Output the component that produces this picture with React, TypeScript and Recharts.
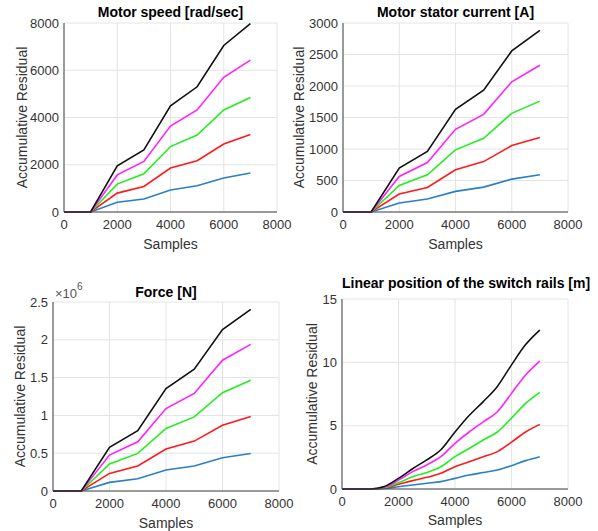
import React from 'react';
import { LineChart, Line, XAxis, YAxis, CartesianGrid } from 'recharts';

// sample index (x axis) for the three step plots
const samples = [0, 1000, 2000, 3000, 4000, 5000, 6000, 7000];

// Motor speed [rad/sec]
const speedBlue = [0, 0, 410, 550, 930, 1110, 1440, 1650];
const speedRed = [0, 0, 800, 1080, 1860, 2170, 2880, 3280];
const speedGreen = [0, 0, 1180, 1620, 2770, 3260, 4320, 4850];
const speedMagenta = [0, 0, 1570, 2140, 3640, 4320, 5700, 6430];
const speedBlack = [0, 0, 1950, 2630, 4490, 5300, 7050, 7970];

// Motor stator current [A]
const currentBlue = [0, 0, 142, 205, 327, 395, 522, 590];
const currentRed = [0, 0, 285, 390, 670, 800, 1054, 1181];
const currentGreen = [0, 0, 422, 590, 986, 1170, 1566, 1760];
const currentMagenta = [0, 0, 564, 785, 1313, 1550, 2066, 2330];
const currentBlack = [0, 0, 696, 960, 1630, 1935, 2557, 2884];

// Force [N]
const forceBlue = [0, 0, 114000, 163000, 277000, 330000, 440000, 497000];
const forceRed = [0, 0, 233000, 330000, 555000, 660000, 870000, 985000];
const forceGreen = [0, 0, 357000, 497000, 827000, 980000, 1300000, 1466000];
const forceMagenta = [0, 0, 475000, 651000, 1090000, 1290000, 1730000, 1940000];
const forceBlack = [0, 0, 577000, 797000, 1356000, 1611000, 2135000, 2403000];

// Linear position of the switch rails [m] (smooth curves, denser samples)
const railSamples = [0, 500, 1000, 1500, 2000, 2500, 3000, 3500, 4000, 4500, 5000, 5500, 6000, 6500, 7000];
const railBlue = [0, 0, 0, 0.04, 0.18, 0.32, 0.45, 0.58, 0.84, 1.1, 1.3, 1.5, 1.84, 2.24, 2.55];
const railRed = [0, 0, 0, 0.08, 0.37, 0.66, 0.92, 1.24, 1.76, 2.15, 2.55, 2.95, 3.7, 4.5, 5.1];
const railGreen = [0, 0, 0, 0.11, 0.5, 0.97, 1.3, 1.76, 2.55, 3.2, 3.87, 4.5, 5.6, 6.76, 7.63];
const railMagenta = [0, 0, 0, 0.15, 0.7, 1.37, 1.9, 2.55, 3.6, 4.5, 5.3, 6.1, 7.55, 9.0, 10.1];
const railBlack = [0, 0, 0, 0.2, 0.84, 1.6, 2.3, 3.1, 4.5, 5.8, 6.9, 8.1, 9.8, 11.4, 12.55];

const xTicks = [0, 2000, 4000, 6000, 8000];
const speedTicks = [0, 2000, 4000, 6000, 8000];
const currentTicks = [0, 500, 1000, 1500, 2000, 2500, 3000];
const forceTicks = [0, 500000, 1000000, 1500000, 2000000, 2500000];
const railTicks = [0, 5, 10, 15];

const FONT = '"Liberation Sans", Arial, Helvetica, sans-serif';
const TEXT = '#333';
const BOX = '#444';

const series = [
  { key: 'blue', color: '#2a7fc4' },
  { key: 'red', color: '#ff1a1a' },
  { key: 'green', color: '#22ee22' },
  { key: 'magenta', color: '#ff22ff' },
  { key: 'black', color: '#111111' },
];

function rows(xs: number[], blue: number[], red: number[], green: number[], magenta: number[], black: number[]) {
  return xs.map((x, i) => ({ x, blue: blue[i], red: red[i], green: green[i], magenta: magenta[i], black: black[i] }));
}

type PanelProps = {
  left: number;
  top: number;
  width: number;
  height: number;
  yWidth: number;
  mTop: number;
  mRight: number;
  xHeight: number;
  data: any[];
  yMax: number;
  yTicks: number[];
  yFmt?: (v: number) => string;
  title: string;
  titleTop: number;
  labelX: number;
  samplesOffset: number;
  curve: 'linear' | 'monotone';
};

function Panel(p: PanelProps) {
  const plotW = p.width - p.yWidth - p.mRight;
  return (
    <>
      <div
        style={{
          position: 'absolute',
          left: p.left + p.yWidth,
          top: p.titleTop,
          width: plotW,
          height: 16,
          lineHeight: '16px',
          textAlign: 'center',
          fontFamily: FONT,
          fontWeight: 'bold',
          fontSize: 14,
          color: '#000',
          whiteSpace: 'nowrap',
        }}
      >
        {p.title}
      </div>
      <div style={{ position: 'absolute', left: p.left, top: p.top }}>
        <LineChart
          width={p.width}
          height={p.height}
          data={p.data}
          margin={{ top: p.mTop, right: p.mRight, left: 0, bottom: 0 }}
          style={{ fontFamily: FONT }}
        >
          <CartesianGrid stroke="#e4e4e4" strokeWidth={1} />
          <XAxis
            dataKey="x"
            type="number"
            domain={[0, 8000]}
            ticks={xTicks}
            height={p.xHeight}
            tickLine={false}
            tickSize={0}
            tickMargin={8}
            stroke={BOX}
            tick={{ fill: TEXT, fontSize: 13 }}
            label={{ value: 'Samples', position: 'insideBottom', offset: p.samplesOffset, fill: TEXT, fontSize: 14 }}
          />
          <YAxis
            type="number"
            domain={[0, p.yMax]}
            ticks={p.yTicks}
            width={p.yWidth}
            tickLine={false}
            tickSize={0}
            tickMargin={5}
            stroke={BOX}
            tickFormatter={p.yFmt}
            interval={0}
            tick={{ fill: TEXT, fontSize: 13 }}
            label={{
              value: 'Accumulative Residual',
              angle: -90,
              position: 'insideLeft',
              offset: p.labelX,
              fill: TEXT,
              fontSize: 14,
              style: { textAnchor: 'middle' },
            }}
          />
          <XAxis xAxisId="top" orientation="top" type="number" domain={[0, 8000]} height={0} tick={false} tickLine={false} stroke={BOX} />
          <YAxis yAxisId="right" orientation="right" type="number" domain={[0, 1]} width={0} tick={false} tickLine={false} stroke={BOX} />
          {series.map((s) => (
            <Line
              key={s.key}
              type={p.curve}
              dataKey={s.key}
              stroke={s.color}
              strokeWidth={1.6}
              dot={false}
              activeDot={false}
              isAnimationActive={false}
            />
          ))}
        </LineChart>
      </div>
    </>
  );
}

export default function App() {
  const speedData = rows(samples, speedBlue, speedRed, speedGreen, speedMagenta, speedBlack);
  const currentData = rows(samples, currentBlue, currentRed, currentGreen, currentMagenta, currentBlack);
  const forceData = rows(samples, forceBlue, forceRed, forceGreen, forceMagenta, forceBlack);
  const railData = rows(railSamples, railBlue, railRed, railGreen, railMagenta, railBlack);

  return (
    <div style={{ position: 'absolute', left: 0, top: 0, width: 598, height: 531, background: '#fff', overflow: 'hidden' }}>
      <Panel
        left={0} top={0} width={300} height={260}
        yWidth={64} mTop={23} mRight={23} xHeight={48}
        data={speedData} yMax={8000} yTicks={speedTicks}
        title="Motor speed [rad/sec]" titleTop={4}
        labelX={22} samplesOffset={11} curve="linear"
      />
      <Panel
        left={280} top={0} width={318} height={260}
        yWidth={63} mTop={23} mRight={30} xHeight={48}
        data={currentData} yMax={3000} yTicks={currentTicks}
        title="Motor stator current [A]" titleTop={4}
        labelX={19} samplesOffset={11} curve="linear"
      />
      <Panel
        left={0} top={260} width={300} height={271}
        yWidth={53} mTop={42} mRight={21} xHeight={40}
        data={forceData} yMax={2500000} yTicks={forceTicks}
        yFmt={(v: number) => String(v / 1000000)}
        title="Force [N]" titleTop={284}
        labelX={20} samplesOffset={3} curve="linear"
      />
      <div
        style={{
          position: 'absolute',
          left: 55,
          top: 286,
          fontFamily: FONT,
          fontSize: 13,
          color: '#555',
          lineHeight: '16px',
          whiteSpace: 'nowrap',
        }}
      >
        ×10<sup style={{ fontSize: 10, verticalAlign: 'top', lineHeight: '10px', position: 'relative', top: -4 }}>6</sup>
      </div>
      <Panel
        left={290} top={260} width={308} height={271}
        yWidth={52} mTop={39} mRight={30} xHeight={42}
        data={railData} yMax={15} yTicks={railTicks}
        title="Linear position of the switch rails [m]" titleTop={275}
        labelX={22} samplesOffset={6} curve="monotone"
      />
    </div>
  );
}
